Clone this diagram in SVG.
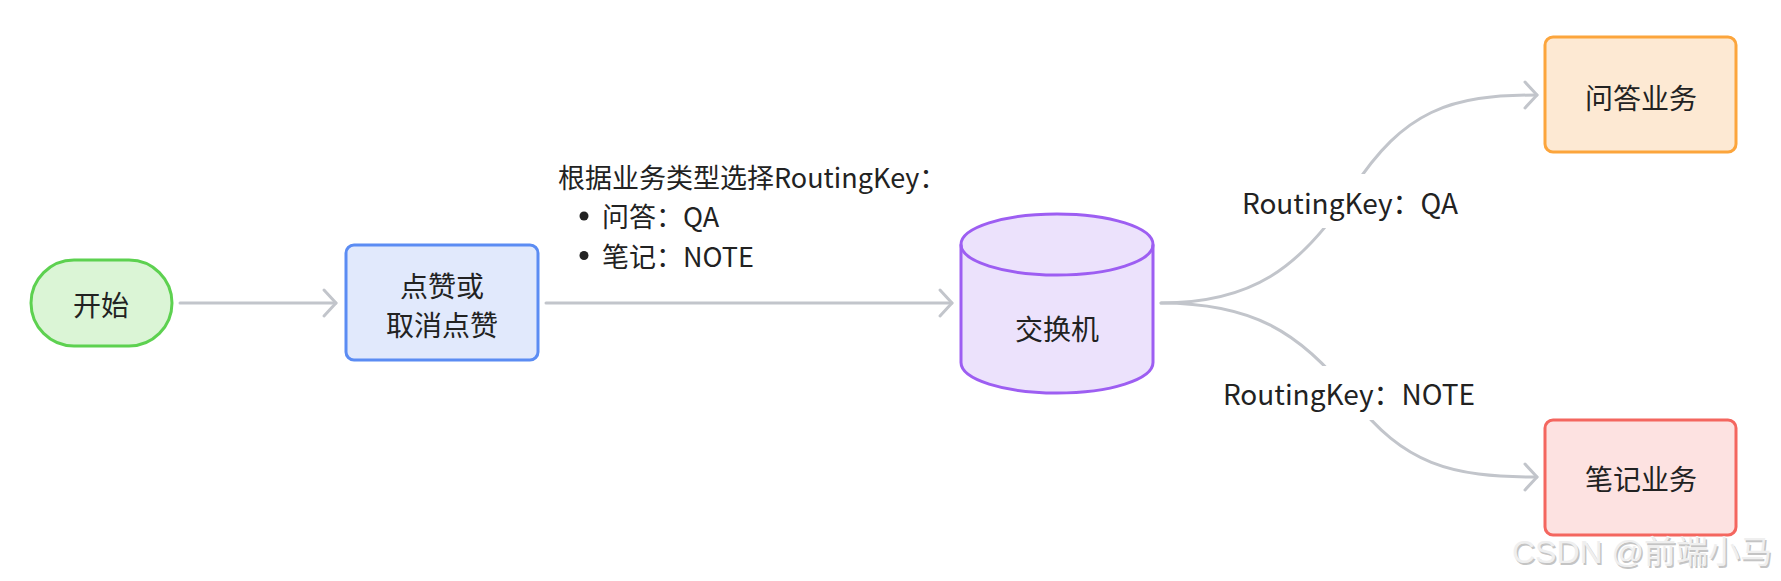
<svg xmlns="http://www.w3.org/2000/svg" width="1781" height="581" viewBox="0 0 1781 581">
  <style>
    .t { font-family: "Noto Sans CJK SC", "Noto Sans", sans-serif; font-size: 28px; fill: #222222; }
    .c { text-anchor: middle; dominant-baseline: central; }
    .lbl { font-size: 27px; }
    .edge { fill: none; stroke: #c2c5cb; stroke-width: 3; stroke-linecap: round; }
    .wm { font-family: "Liberation Sans", "Noto Sans CJK SC", sans-serif; font-size: 32px; }
  </style>
  <defs>
    <marker id="arrow" markerUnits="userSpaceOnUse" markerWidth="22" markerHeight="32" viewBox="0 0 22 32" refX="17" refY="16" orient="auto">
      <path d="M5,3 L17,16 L5,29" fill="none" stroke="#c2c5cb" stroke-width="3" stroke-linecap="round" stroke-linejoin="round"/>
    </marker>
  </defs>
  <rect x="0" y="0" width="1781" height="581" fill="#ffffff"/>

  <g id="connectors">
    <path class="edge" d="M180,303 L336,303" marker-end="url(#arrow)"/>
    <path class="edge" d="M546,303 L952,303" marker-end="url(#arrow)"/>
    <path class="edge" d="M1161,303 C1250,303 1300,270 1352,190 C1404,110 1450,95 1537,95" marker-end="url(#arrow)"/>
    <path class="edge" d="M1161,303 C1250,303 1300,330.6 1352,397.5 C1404,464.4 1450,477 1537,477" marker-end="url(#arrow)"/>
    <g id="label-main">
      <circle cx="584" cy="216" r="4.5" fill="#222222"/>
      <circle cx="584" cy="255.5" r="4.5" fill="#222222"/>
      <text class="t lbl" dominant-baseline="central"><tspan x="558" y="175.5">根据业务类型选择RoutingKey：</tspan><tspan x="602" y="215">问答：QA</tspan><tspan x="602" y="254.5">笔记：NOTE</tspan></text>
    </g>
    <g id="label-qa">
      <rect x="1238" y="174" width="224" height="54" fill="#ffffff"/>
      <text class="t c" x="1350" y="202">RoutingKey：QA</text>
    </g>
    <g id="label-note">
      <rect x="1218" y="366" width="262" height="54" fill="#ffffff"/>
      <text class="t c" x="1349" y="393">RoutingKey：NOTE</text>
    </g>
  </g>

  <g id="node-start">
    <rect x="31" y="260" width="141" height="86" rx="43" ry="43" fill="#dbf5d6" stroke="#5dd150" stroke-width="3"/>
    <text class="t c" x="101" y="304">开始</text>
  </g>

  <g id="node-like">
    <rect x="346" y="245" width="192" height="115" rx="8" ry="8" fill="#e1e9fc" stroke="#5b8cf3" stroke-width="3"/>
    <text class="t c"><tspan x="442" y="285">点赞或</tspan><tspan x="442" y="324">取消点赞</tspan></text>
  </g>

  <g id="node-exchange">
    <path d="M961,244.5 L961,362.5 A96,30.5 0 0 0 1153,362.5 L1153,244.5 A96,30.5 0 0 0 961,244.5 Z" fill="#ece2fc" stroke="#9d5ef2" stroke-width="3"/>
    <path d="M961,244.5 A96,30.5 0 0 0 1153,244.5" fill="none" stroke="#9d5ef2" stroke-width="3"/>
    <text class="t c" x="1057" y="328">交换机</text>
  </g>

  <g id="node-qa">
    <rect x="1545" y="37" width="191" height="115" rx="8" ry="8" fill="#fde9d3" stroke="#fca53c" stroke-width="3"/>
    <text class="t c" x="1641" y="97">问答业务</text>
  </g>

  <g id="node-note">
    <rect x="1545" y="420" width="191" height="115" rx="8" ry="8" fill="#fde2e1" stroke="#f4665f" stroke-width="3"/>
    <text class="t c" x="1641" y="478">笔记业务</text>
  </g>

  <g id="watermark">
    <text class="wm" x="1513.5" y="564.5" fill="#c4c4c4">CSDN @前端小马</text>
    <text class="wm" x="1512" y="563" fill="#efefef">CSDN @前端小马</text>
  </g>
</svg>
